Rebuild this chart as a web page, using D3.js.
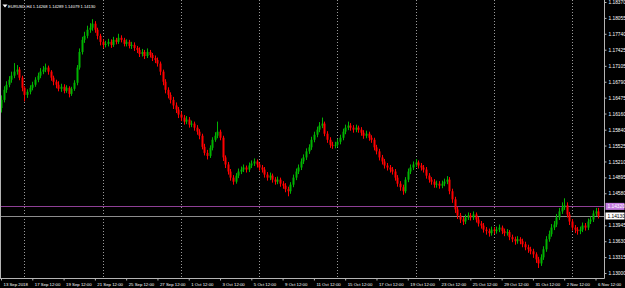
<!DOCTYPE html>
<html>
<head>
<meta charset="utf-8">
<script src="https://cdn.jsdelivr.net/npm/d3@7"></script>
<style>
html, body { margin: 0; padding: 0; background: #000; overflow: hidden; }
svg { display: block; }
text { font-family: "Liberation Sans", Arial, sans-serif; }
</style>
</head>
<body>
<div id="chart"></div>
<script>
// chart header
const symbolTitle = 'EURUSD,H4';
const titleQuote = ['1.14268', '1.14289', '1.14079', '1.14130'];

// right price axis (1.14265 sits under the price boxes)
const priceTicks = [1.18370, 1.18055, 1.17740, 1.17425, 1.17105, 1.16790, 1.16475, 1.16160,
    1.15840, 1.15525, 1.15210, 1.14895, 1.14580, 1.13945, 1.13630, 1.13315, 1.13000];
const bidPrice = 1.14130;
const linePrice = 1.14320;

// bottom time axis (bar index of each label)
const timeLabels = ['13 Sep 2018', '17 Sep 12:00', '19 Sep 12:00', '21 Sep 12:00', '25 Sep 12:00',
    '27 Sep 12:00', '1 Oct 12:00', '3 Oct 12:00', '5 Oct 12:00', '9 Oct 12:00', '11 Oct 12:00',
    '15 Oct 12:00', '17 Oct 12:00', '19 Oct 12:00', '23 Oct 12:00', '25 Oct 12:00', '29 Oct 12:00',
    '31 Oct 12:00', '2 Nov 12:00', '6 Nov 12:00'];
const labelBars = [0, 12, 24, 36, 48, 60, 72, 84, 96, 108, 120, 132, 144, 156, 168, 180, 192, 204, 216, 228];
// week separators (Monday 00:00)
const gridBars = [9, 39, 69, 99, 129, 159, 189, 219];

// H4 bars
const firstOpen = 1.1627;
const closes = [
    1.1643, 1.1663, 1.1673, 1.1683, 1.1691, 1.1699, 1.1703, 1.1687, 1.1667, 1.1653,
    1.1659, 1.1667, 1.1673, 1.1683, 1.1691, 1.1699, 1.1703, 1.1707, 1.1699, 1.1687,
    1.1679, 1.1673, 1.1665, 1.1669, 1.1661, 1.1667, 1.1655, 1.1665, 1.1677, 1.1707,
    1.1738, 1.1762, 1.1770, 1.1782, 1.1786, 1.1794, 1.1782, 1.1770, 1.1758, 1.1752,
    1.1754, 1.1758, 1.1752, 1.1762, 1.1758, 1.1766, 1.1762, 1.1754, 1.1758, 1.1750,
    1.1752, 1.1746, 1.1742, 1.1734, 1.1738, 1.1730, 1.1738, 1.1732, 1.1726, 1.1722,
    1.1715, 1.1699, 1.1679, 1.1663, 1.1653, 1.1643, 1.1632, 1.1624, 1.1614, 1.1608,
    1.1600, 1.1604, 1.1594, 1.1596, 1.1588, 1.1580, 1.1572, 1.1550, 1.1538, 1.1532,
    1.1548, 1.1564, 1.1572, 1.1580, 1.1568, 1.1529, 1.1515, 1.1501, 1.1489, 1.1481,
    1.1493, 1.1501, 1.1505, 1.1509, 1.1505, 1.1513, 1.1517, 1.1521, 1.1515, 1.1509,
    1.1505, 1.1495, 1.1489, 1.1493, 1.1485, 1.1481, 1.1485, 1.1477, 1.1473, 1.1466,
    1.1462, 1.1475, 1.1489, 1.1501, 1.1509, 1.1521, 1.1529, 1.1541, 1.1549, 1.1564,
    1.1574, 1.1584, 1.1592, 1.1596, 1.1576, 1.1564, 1.1554, 1.1553, 1.1554, 1.1560,
    1.1568, 1.1580, 1.1588, 1.1592, 1.1588, 1.1584, 1.1588, 1.1584, 1.1578, 1.1572,
    1.1576, 1.1568, 1.1564, 1.1549, 1.1541, 1.1529, 1.1521, 1.1513, 1.1509, 1.1505,
    1.1501, 1.1489, 1.1477, 1.1470, 1.1462, 1.1485, 1.1501, 1.1509, 1.1515, 1.1519,
    1.1513, 1.1509, 1.1505, 1.1493, 1.1485, 1.1481, 1.1475, 1.1477, 1.1473, 1.1477,
    1.1481, 1.1485, 1.1462, 1.1446, 1.1426, 1.1414, 1.1406, 1.1402, 1.1410, 1.1414,
    1.1410, 1.1416, 1.1406, 1.1398, 1.1394, 1.1386, 1.1383, 1.1379, 1.1386, 1.1383,
    1.1386, 1.1390, 1.1383, 1.1379, 1.1381, 1.1371, 1.1367, 1.1363, 1.1367, 1.1363,
    1.1357, 1.1351, 1.1347, 1.1343, 1.1337, 1.1327, 1.1319, 1.1331, 1.1347, 1.1367,
    1.1377, 1.1390, 1.1396, 1.1410, 1.1422, 1.1430, 1.1434, 1.1416, 1.1402, 1.1390,
    1.1386, 1.1383, 1.1386, 1.1394, 1.1390, 1.1402, 1.1406, 1.1418, 1.1422, 1.1413
];
const highs = [
    1.1652, 1.1670, 1.1680, 1.1690, 1.1699, 1.1716, 1.1712, 1.1708, 1.1691, 1.1670,
    1.1664, 1.1672, 1.1679, 1.1688, 1.1697, 1.1706, 1.1710, 1.1715, 1.1711, 1.1702,
    1.1691, 1.1683, 1.1680, 1.1675, 1.1674, 1.1672, 1.1670, 1.1669, 1.1682, 1.1712,
    1.1745, 1.1768, 1.1778, 1.1790, 1.1795, 1.1803, 1.1799, 1.1786, 1.1774, 1.1763,
    1.1760, 1.1764, 1.1763, 1.1768, 1.1766, 1.1774, 1.1771, 1.1766, 1.1763, 1.1762,
    1.1758, 1.1757, 1.1750, 1.1747, 1.1744, 1.1742, 1.1745, 1.1742, 1.1736, 1.1731,
    1.1727, 1.1719, 1.1703, 1.1684, 1.1668, 1.1658, 1.1649, 1.1638, 1.1629, 1.1620,
    1.1613, 1.1611, 1.1609, 1.1602, 1.1600, 1.1593, 1.1585, 1.1576, 1.1556, 1.1544,
    1.1553, 1.1569, 1.1579, 1.1600, 1.1584, 1.1572, 1.1533, 1.1520, 1.1506, 1.1494,
    1.1498, 1.1507, 1.1511, 1.1515, 1.1513, 1.1519, 1.1523, 1.1527, 1.1525, 1.1519,
    1.1514, 1.1510, 1.1500, 1.1499, 1.1497, 1.1490, 1.1491, 1.1489, 1.1482, 1.1478,
    1.1471, 1.1480, 1.1495, 1.1507, 1.1515, 1.1527, 1.1535, 1.1547, 1.1555, 1.1570,
    1.1580, 1.1590, 1.1599, 1.1608, 1.1600, 1.1581, 1.1569, 1.1560, 1.1560, 1.1566,
    1.1574, 1.1586, 1.1594, 1.1600, 1.1597, 1.1593, 1.1594, 1.1592, 1.1589, 1.1583,
    1.1582, 1.1580, 1.1573, 1.1568, 1.1554, 1.1546, 1.1534, 1.1526, 1.1518, 1.1514,
    1.1510, 1.1506, 1.1494, 1.1482, 1.1475, 1.1490, 1.1507, 1.1515, 1.1521, 1.1526,
    1.1523, 1.1518, 1.1514, 1.1510, 1.1498, 1.1490, 1.1486, 1.1483, 1.1482, 1.1483,
    1.1487, 1.1492, 1.1490, 1.1467, 1.1451, 1.1431, 1.1419, 1.1411, 1.1416, 1.1420,
    1.1419, 1.1422, 1.1420, 1.1411, 1.1403, 1.1399, 1.1391, 1.1388, 1.1392, 1.1391,
    1.1392, 1.1396, 1.1394, 1.1388, 1.1387, 1.1385, 1.1376, 1.1372, 1.1373, 1.1371,
    1.1368, 1.1362, 1.1356, 1.1352, 1.1348, 1.1341, 1.1332, 1.1337, 1.1353, 1.1373,
    1.1384, 1.1397, 1.1403, 1.1417, 1.1429, 1.1440, 1.1448, 1.1440, 1.1421, 1.1407,
    1.1395, 1.1391, 1.1392, 1.1400, 1.1399, 1.1408, 1.1412, 1.1424, 1.1429, 1.1429
];
const lows = [
    1.1618, 1.1638, 1.1657, 1.1668, 1.1677, 1.1686, 1.1693, 1.1682, 1.1660, 1.1640,
    1.1647, 1.1654, 1.1662, 1.1669, 1.1678, 1.1686, 1.1694, 1.1698, 1.1693, 1.1681,
    1.1672, 1.1666, 1.1660, 1.1659, 1.1656, 1.1657, 1.1648, 1.1651, 1.1661, 1.1672,
    1.1703, 1.1733, 1.1756, 1.1765, 1.1776, 1.1780, 1.1776, 1.1763, 1.1751, 1.1745,
    1.1747, 1.1749, 1.1746, 1.1748, 1.1753, 1.1754, 1.1757, 1.1749, 1.1749, 1.1745,
    1.1744, 1.1740, 1.1736, 1.1728, 1.1729, 1.1724, 1.1726, 1.1727, 1.1720, 1.1716,
    1.1709, 1.1692, 1.1672, 1.1656, 1.1646, 1.1636, 1.1625, 1.1617, 1.1607, 1.1601,
    1.1594, 1.1595, 1.1588, 1.1589, 1.1582, 1.1574, 1.1565, 1.1545, 1.1533, 1.1525,
    1.1528, 1.1543, 1.1560, 1.1567, 1.1563, 1.1522, 1.1508, 1.1495, 1.1483, 1.1475,
    1.1477, 1.1488, 1.1496, 1.1500, 1.1499, 1.1500, 1.1508, 1.1512, 1.1509, 1.1503,
    1.1499, 1.1489, 1.1483, 1.1484, 1.1479, 1.1475, 1.1476, 1.1471, 1.1467, 1.1460,
    1.1452, 1.1457, 1.1470, 1.1484, 1.1496, 1.1504, 1.1516, 1.1524, 1.1536, 1.1544,
    1.1559, 1.1569, 1.1579, 1.1587, 1.1571, 1.1558, 1.1548, 1.1546, 1.1547, 1.1549,
    1.1555, 1.1563, 1.1575, 1.1583, 1.1582, 1.1578, 1.1579, 1.1578, 1.1572, 1.1566,
    1.1567, 1.1562, 1.1558, 1.1543, 1.1535, 1.1523, 1.1515, 1.1507, 1.1503, 1.1499,
    1.1495, 1.1483, 1.1471, 1.1463, 1.1455, 1.1458, 1.1480, 1.1496, 1.1504, 1.1510,
    1.1507, 1.1503, 1.1499, 1.1487, 1.1479, 1.1475, 1.1469, 1.1469, 1.1467, 1.1468,
    1.1472, 1.1476, 1.1456, 1.1439, 1.1419, 1.1407, 1.1399, 1.1395, 1.1397, 1.1405,
    1.1404, 1.1405, 1.1400, 1.1392, 1.1388, 1.1380, 1.1376, 1.1372, 1.1374, 1.1377,
    1.1378, 1.1381, 1.1377, 1.1373, 1.1374, 1.1365, 1.1361, 1.1356, 1.1358, 1.1357,
    1.1351, 1.1345, 1.1340, 1.1337, 1.1330, 1.1320, 1.1310, 1.1314, 1.1326, 1.1342,
    1.1362, 1.1372, 1.1385, 1.1391, 1.1405, 1.1417, 1.1425, 1.1410, 1.1395, 1.1384,
    1.1379, 1.1376, 1.1377, 1.1381, 1.1384, 1.1385, 1.1397, 1.1401, 1.1413, 1.1408
];

const W = 625, H = 288;
const plotRight = 604.5, plotBottom = 278.5;

const svg = d3.select('#chart').append('svg')
    .attr('width', W).attr('height', H)
    .style('background', '#000');

const x = d3.scaleLinear().domain([0, 228]).range([1, 595.5]);
const y = d3.scaleLinear().domain([1.13000, 1.18370]).range([273, 2]);

// week separators
svg.append('g').selectAll('line')
    .data(gridBars)
    .enter().append('line')
    .attr('x1', d => Math.round(x(d)) + 0.5).attr('x2', d => Math.round(x(d)) + 0.5)
    .attr('y1', 0).attr('y2', plotBottom)
    .attr('stroke', '#9a9a9a').attr('stroke-dasharray', '1,2');

// horizontal lines
svg.append('line')
    .attr('x1', 0).attr('x2', plotRight)
    .attr('y1', Math.round(y(linePrice)) + 0.5).attr('y2', Math.round(y(linePrice)) + 0.5)
    .attr('stroke', '#8e3f95');
svg.append('line')
    .attr('x1', 0).attr('x2', plotRight)
    .attr('y1', Math.round(y(bidPrice)) + 0.5).attr('y2', Math.round(y(bidPrice)) + 0.5)
    .attr('stroke', '#8c8c8c');

// candles
const bars = closes.map((c, i) => ({
    i,
    open: i === 0 ? firstOpen : closes[i - 1],
    close: c,
    high: highs[i],
    low: lows[i]
}));
const colour = d => d.close >= d.open ? '#00b400' : '#ff0000';
const candles = svg.append('g');
candles.selectAll('line')
    .data(bars)
    .enter().append('line')
    .attr('x1', d => Math.round(x(d.i)) + 0.5).attr('x2', d => Math.round(x(d.i)) + 0.5)
    .attr('y1', d => y(d.high)).attr('y2', d => y(d.low))
    .attr('stroke', colour);
candles.selectAll('rect')
    .data(bars)
    .enter().append('rect')
    .attr('x', d => Math.round(x(d.i)) - 0.5)
    .attr('width', 2)
    .attr('y', d => y(Math.max(d.open, d.close)))
    .attr('height', d => Math.max(1, Math.abs(y(d.open) - y(d.close))))
    .attr('fill', colour);

// axes frame
svg.append('line').attr('x1', plotRight).attr('x2', plotRight).attr('y1', 0).attr('y2', plotBottom)
    .attr('stroke', '#b4b4b4');
svg.append('line').attr('x1', 0).attr('x2', plotRight).attr('y1', plotBottom).attr('y2', plotBottom)
    .attr('stroke', '#b4b4b4');
svg.append('line').attr('x1', 0.5).attr('x2', 0.5).attr('y1', 0).attr('y2', plotBottom)
    .attr('stroke', '#b4b4b4');

// price axis
const yAxis = svg.append('g').attr('transform', `translate(${plotRight},0)`)
    .call(d3.axisRight(y).tickValues(priceTicks).tickSize(2).tickFormat(d3.format('.5f')));
yAxis.select('.domain').remove();
yAxis.selectAll('line').attr('stroke', '#b4b4b4');
yAxis.selectAll('text').attr('x', 4).style('font-size', '4.8px').style('fill', '#fff');

// time axis
const xAxis = svg.append('g').attr('transform', `translate(0,${plotBottom})`)
    .call(d3.axisBottom(x).tickValues(labelBars).tickSize(2).tickFormat((d, k) => timeLabels[k]));
xAxis.select('.domain').remove();
xAxis.selectAll('line').attr('stroke', '#b4b4b4');
xAxis.selectAll('text').attr('text-anchor', 'start').attr('x', 2).attr('y', 4)
    .style('font-size', '4.3px').style('fill', '#fff');

// price boxes on the right
function priceBox(price, fill, textFill) {
    const yy = y(price);
    svg.append('rect').attr('x', plotRight + 1).attr('y', yy - 3.5).attr('width', 19).attr('height', 7)
        .attr('fill', fill);
    svg.append('text').attr('x', plotRight + 3).attr('y', yy + 1.7)
        .style('font-size', '4.8px').style('fill', textFill).text(d3.format('.5f')(price));
}
priceBox(linePrice, '#c47ae0', '#fff');
priceBox(bidPrice, '#fff', '#000');

// header
svg.append('path').attr('d', 'M2.5,4.5 L7.5,4.5 L5,7.5 Z').attr('fill', '#fff');
svg.append('text').attr('x', 8).attr('y', 8).style('font-size', '4.1px').style('fill', '#fff')
    .text(symbolTitle + '  ' + titleQuote.join(' '));
</script>
</body>
</html>
